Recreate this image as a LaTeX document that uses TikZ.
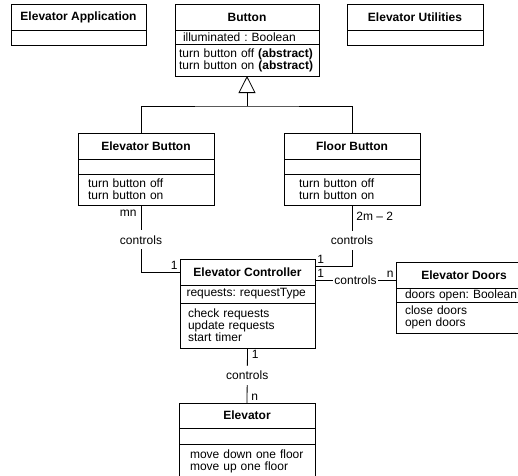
\documentclass[tikz,border=0pt]{standalone}
\usepackage{fontspec}
\setmainfont{Liberation Sans}
\usepackage{tikz}
\usetikzlibrary{positioning, arrows.meta}
\tikzstyle{classname} = [rectangle, 
minimum width=136pt, 
minimum height=26pt, 
inner sep=0pt, 
outer sep=0pt, 
text centered, 
draw=black, 
font=\fontsize{12}{12}\selectfont\frenchspacing\bfseries]
\tikzstyle{compartment} = [rectangle, 
inner ysep=0pt, 
outer sep=0pt, 
align=left, 
draw=black, 
font=\fontsize{12}{12}\selectfont\frenchspacing]
\tikzstyle{assoc} = [fill=white, inner xsep=1pt, inner ysep=5pt, font=\fontsize{12}{12}\selectfont]
\tikzstyle{mult} = [inner sep=2pt, font=\fontsize{12}{12}\selectfont]

\begin{document}
\begin{tikzpicture}[x=1pt, y=-1pt, line width=0.8pt]
\useasboundingbox (0,0) rectangle (518,475);
\clip (0,0) rectangle (518,475);

\node (app) [classname, minimum width=135pt, anchor=north west] at (11,4) {Elevator Application};
\node (app-attr) [compartment, below=0pt of app, minimum width=135pt, minimum height=15pt] {};

\node (btn) [classname, minimum width=144pt, anchor=north west] at (175,4) {Button};
\node (btn-attr) [compartment, below=0pt of btn, inner xsep=8pt, text width=128pt, minimum height=14pt] {illuminated : Boolean};
\node (btn-ops) [compartment, below=0pt of btn-attr, inner xsep=4pt, text width=136pt, minimum height=32pt] {turn button off \textbf{(abstract)}\\turn button on \textbf{(abstract)}};

\node (util) [classname, anchor=north west] at (347,4) {Elevator Utilities};
\node (util-attr) [compartment, below=0pt of util, minimum width=136pt, minimum height=15pt] {};

\node (ebtn) [classname, anchor=north west] at (78,133) {Elevator Button};
\node (ebtn-attr) [compartment, below=0pt of ebtn, minimum width=136pt, minimum height=15pt] {};
\node (ebtn-ops) [compartment, below=0pt of ebtn-attr, inner xsep=10pt, text width=116pt, minimum height=31pt] {turn button off\\turn button on};

\node (fbtn) [classname, anchor=north west] at (284,133) {Floor Button};
\node (fbtn-attr) [compartment, below=0pt of fbtn, minimum width=136pt, minimum height=15pt] {};
\node (fbtn-ops) [compartment, below=0pt of fbtn-attr, inner xsep=15pt, text width=106pt, minimum height=31pt] {turn button off\\turn button on};

\node (ctrl) [classname, minimum width=135pt, anchor=north west] at (180,259) {Elevator Controller};
\node (ctrl-attr) [compartment, below=0pt of ctrl, inner xsep=6.5pt, text width=122pt, minimum height=18pt] {requests: requestType};
\node (ctrl-ops) [compartment, below=0pt of ctrl-attr, inner xsep=8pt, text width=119pt, minimum height=45pt] {check requests\\update requests\\start timer};

\node (door) [classname, anchor=north west] at (396,262) {Elevator Doors};
\node (door-attr) [compartment, below=0pt of door, inner xsep=9pt, text width=118pt, minimum height=14pt] {doors open: Boolean};
\node (door-ops) [compartment, below=0pt of door-attr, inner xsep=9pt, text width=118pt, minimum height=31pt] {close doors\\open doors};

\node (elev) [classname, anchor=north west, minimum height=25pt] at (179,403) {Elevator};
\node (elev-attr) [compartment, below=0pt of elev, minimum width=136pt, minimum height=16pt] {};
\node (elev-ops) [compartment, below=0pt of elev-attr, inner xsep=11pt, text width=114pt, minimum height=34pt] {move down one floor\\move up one floor};

% generalization
\coordinate (split) at ([yshift=-30pt]btn-ops.south);
\draw[-{Triangle[open, length=17pt, width=17pt]}] (split) -- (btn-ops.south);
\draw ([xshift=-5pt]ebtn.north) |- (split) -| (fbtn.north);

% associations
\draw ([xshift=-5pt]ebtn-ops.south) |- node[assoc, pos=0.26] {controls} node[mult, pos=0, anchor=north east, xshift=-2pt, yshift=-3pt] {mn} node[mult, pos=1, anchor=south east] {1} (ctrl.west);
\draw (fbtn-ops.south) |- node[assoc, pos=0.29] {controls} node[mult, pos=0, anchor=north west, xshift=2pt, yshift=-5pt] {2m -- 2} node[mult, pos=1, anchor=south west] {1} ([yshift=6pt]ctrl.east);
\coordinate (ctrl-low) at ([yshift=-8pt]ctrl.east);
\draw (ctrl-low) -- node[assoc] {controls} node[mult, pos=0, anchor=south west] {1} node[mult, pos=1, anchor=south east] {n} (ctrl-low -| door.west);
\draw (ctrl-ops.south) -- node[assoc] {controls} node[mult, pos=0, anchor=north west, xshift=2pt] {1} node[mult, pos=1, anchor=south west, xshift=2pt] {n} (elev.north);

\end{tikzpicture}
\end{document}
